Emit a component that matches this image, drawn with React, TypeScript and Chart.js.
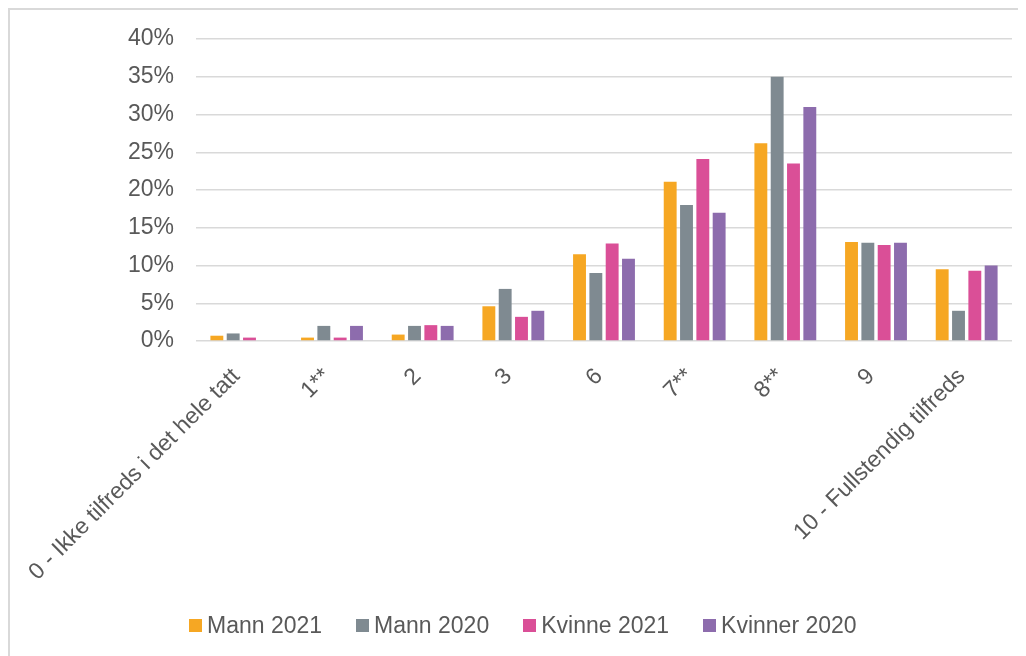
import React, { useEffect, useRef } from "react";
import { Chart, registerables } from "chart.js";

Chart.register(...registerables);

const categories = [
  "0 - Ikke tilfreds i det hele tatt",
  "1**",
  "2",
  "3",
  "6",
  "7**",
  "8**",
  "9",
  "10 - Fullstendig tilfreds",
];
const mann2021 = [0.7, 0.45, 0.85, 4.6, 11.5, 21.1, 26.2, 13.1, 9.5];
const mann2020 = [1.0, 2.0, 2.0, 6.9, 9.0, 18.0, 35.0, 13.0, 4.0];
const kvinne2021 = [0.45, 0.45, 2.1, 3.2, 12.9, 24.1, 23.5, 12.7, 9.3];
const kvinner2020 = [0, 2.0, 2.0, 4.0, 10.9, 17.0, 31.0, 13.0, 10.0];
const seriesNames = ["Mann 2021", "Mann 2020", "Kvinne 2021", "Kvinner 2020"];
const seriesColors = ["#F6A723", "#7F8A91", "#DA4F97", "#8D6CAD"];

const FONT_FAMILY = "'Liberation Sans', Arial, sans-serif";

export default function App() {
  const ref = useRef<HTMLCanvasElement | null>(null);
  useEffect(() => {
    if (!ref.current) return;
    const font = { family: FONT_FAMILY, size: 23 };
    const data = [mann2021, mann2020, kvinne2021, kvinner2020];
    const chart = new Chart(ref.current, {
      type: "bar",
      data: {
        labels: categories,
        datasets: data.map((d, i) => ({
          label: seriesNames[i],
          data: d,
          backgroundColor: seriesColors[i],
          borderWidth: 0,
          barPercentage: 0.79,
          categoryPercentage: 0.72,
        })),
      },
      options: {
        animation: false,
        responsive: false,
        maintainAspectRatio: false,
        layout: { padding: { top: 0, right: 14, bottom: 0, left: 0 } },
        plugins: {
          legend: { display: false },
          tooltip: { enabled: false },
        },
        scales: {
          x: {
            grid: { display: false },
            border: { display: false },
            afterFit: (s: any) => {
              s.height = 315;
            },
            ticks: {
              font,
              color: "#595959",
              minRotation: 45,
              maxRotation: 45,
              autoSkip: false,
              padding: 14,
              labelOffset: -5,
            },
          },
          y: {
            min: 0,
            max: 40,
            afterFit: (s: any) => {
              s.width = 186;
              s.paddingTop = 29;
            },
            grid: { color: "#D9D9D9", lineWidth: 1.5, drawTicks: false },
            border: { display: false },
            ticks: {
              stepSize: 5,
              font,
              color: "#595959",
              padding: 22,
              callback: (v: any) => v + "%",
            },
          },
        },
      },
    });
    return () => chart.destroy();
  }, []);
  return (
    <div
      style={{
        position: "relative",
        width: 1018,
        height: 648,
        borderLeft: "2px solid #D9D9D9",
        borderTop: "2px solid #D9D9D9",
        boxSizing: "border-box",
      }}
    >
      <canvas ref={ref} width={1016} height={646} style={{ display: "block" }} />
      <div
        style={{
          position: "absolute",
          left: 179,
          top: 602,
          display: "flex",
          alignItems: "center",
          fontFamily: FONT_FAMILY,
          fontSize: 23,
          color: "#595959",
          whiteSpace: "nowrap",
          lineHeight: "26px",
        }}
      >
        {seriesNames.map((n, i) => (
          <div
            key={n}
            style={{ display: "flex", alignItems: "center", marginRight: i < seriesNames.length - 1 ? 34 : 0 }}
          >
            <span
              style={{
                display: "inline-block",
                width: 13,
                height: 13,
                background: seriesColors[i],
                marginRight: 5,
              }}
            />
            <span>{n}</span>
          </div>
        ))}
      </div>
    </div>
  );
}
